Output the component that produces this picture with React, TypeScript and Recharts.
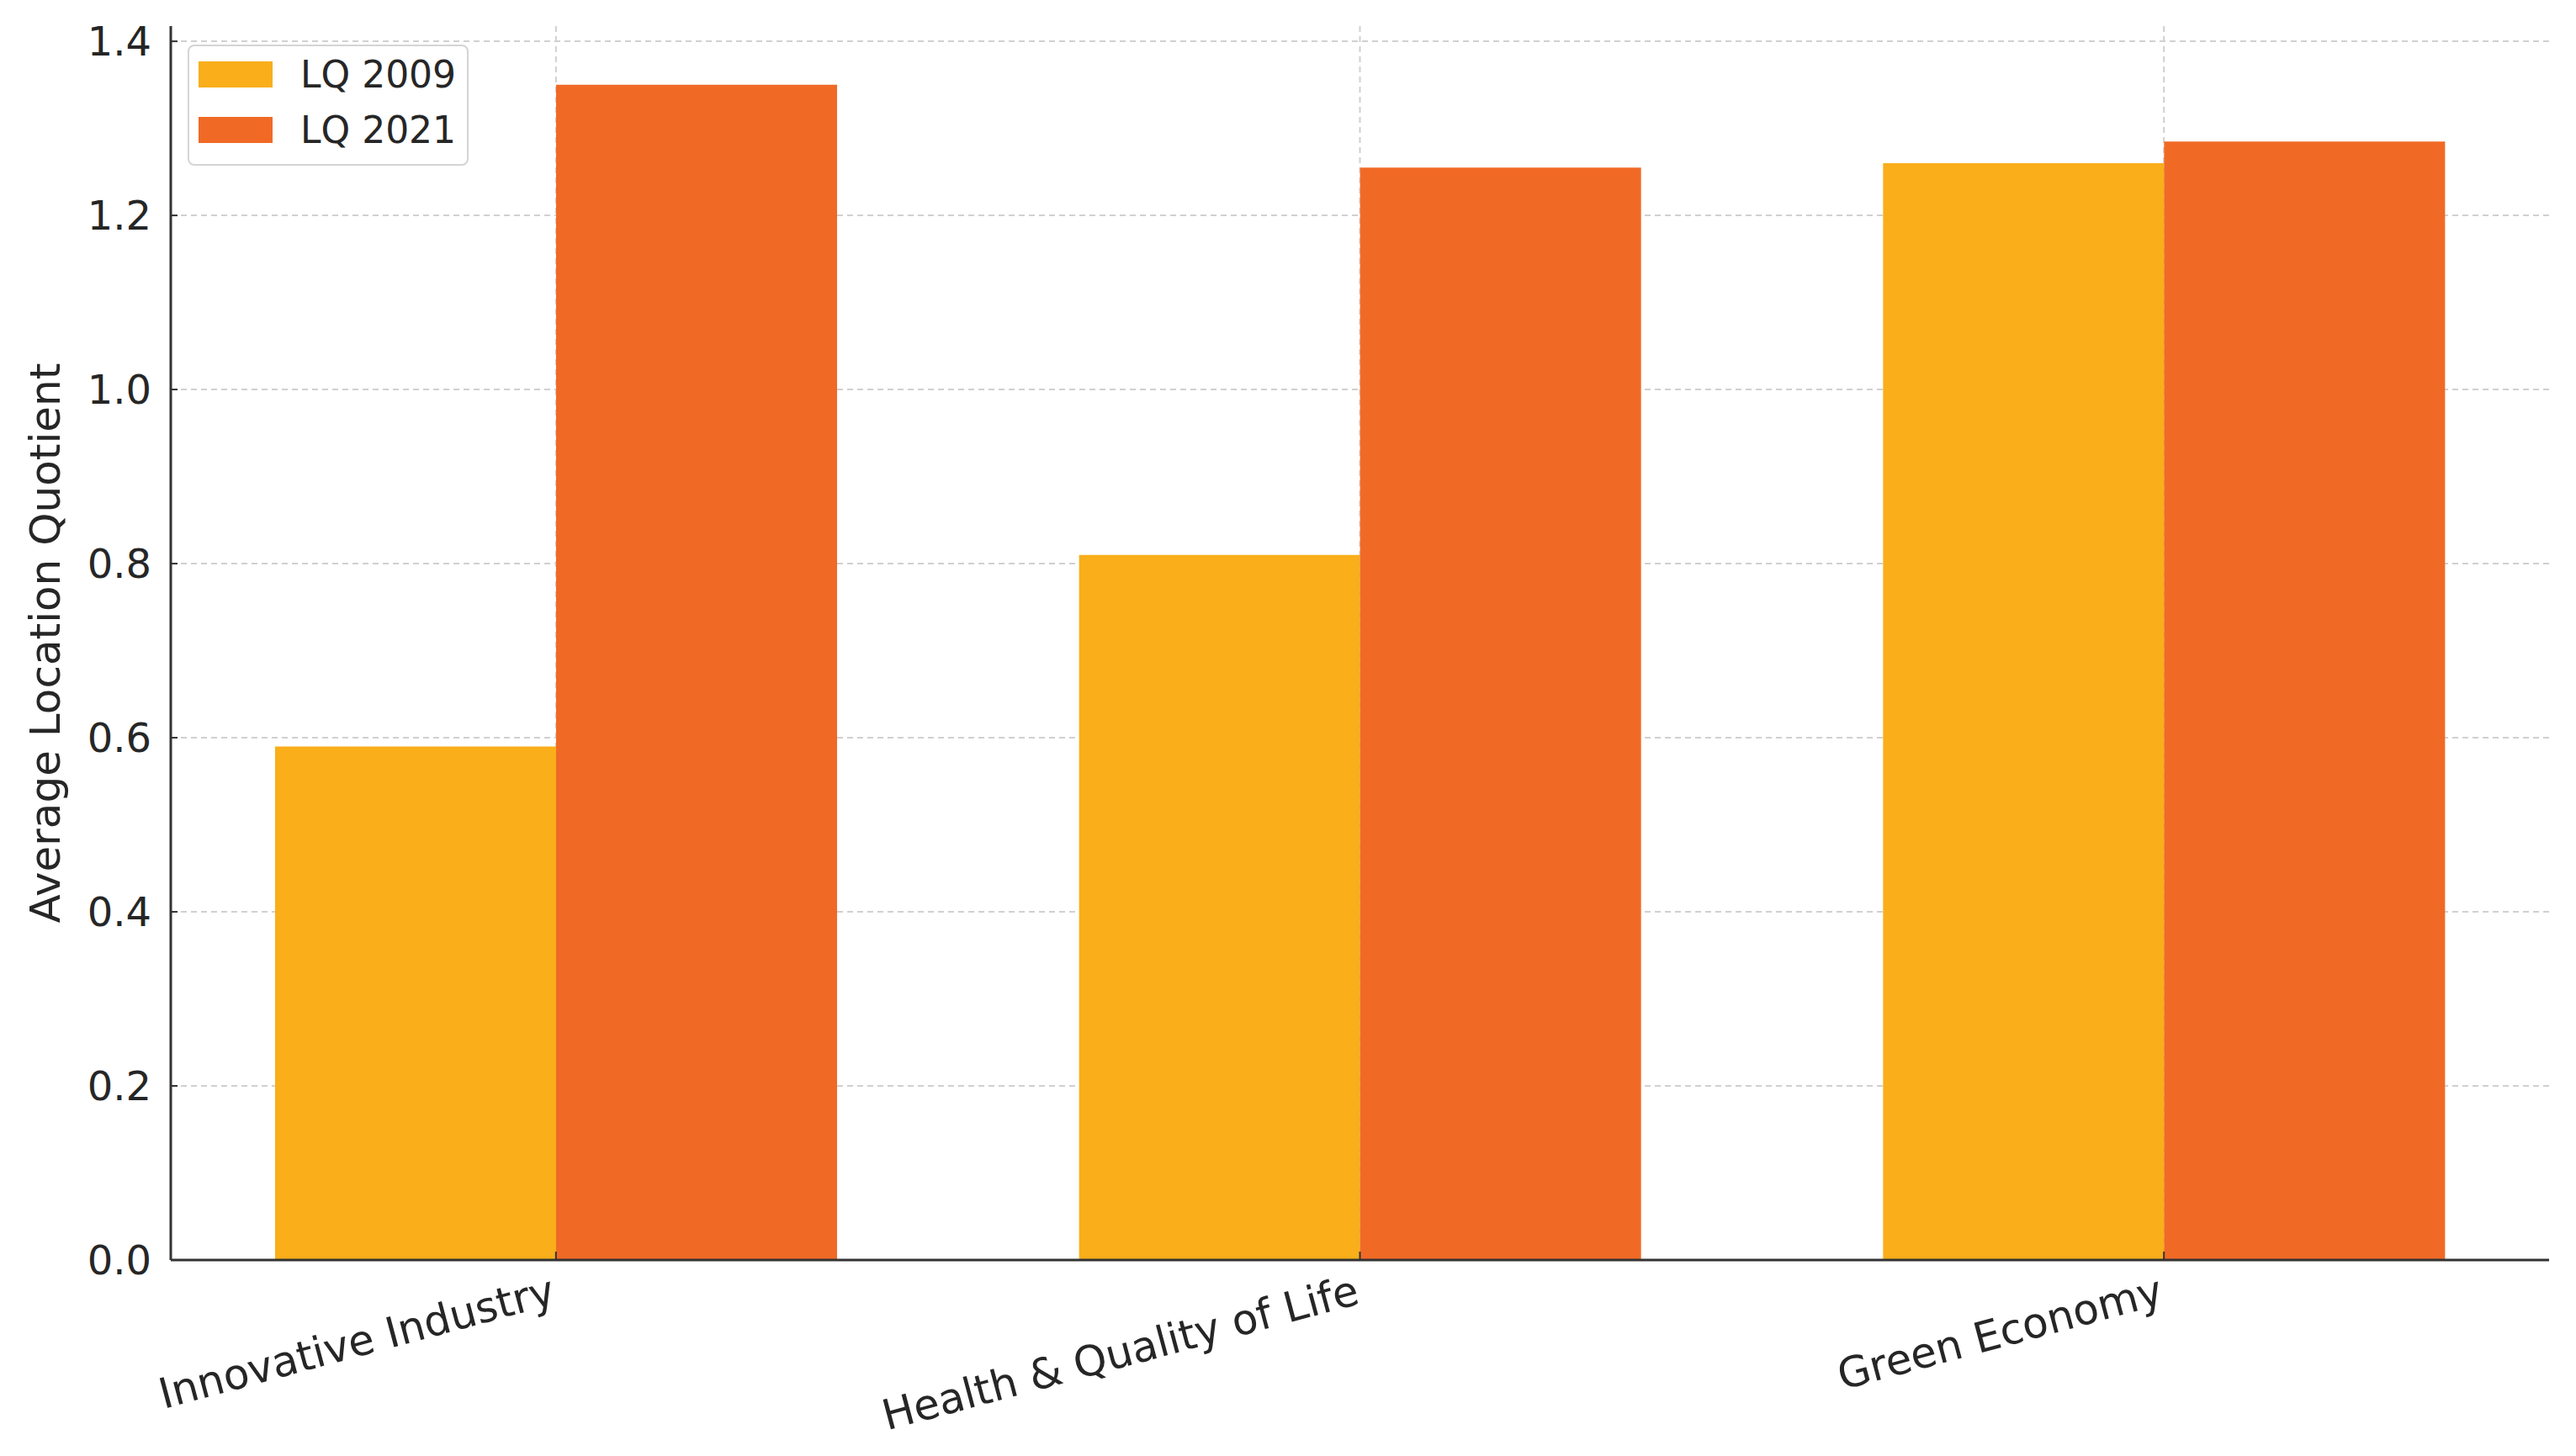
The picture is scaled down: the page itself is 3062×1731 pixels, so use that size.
import { BarChart, Bar, XAxis, YAxis, CartesianGrid, Legend } from "recharts";

const categories = ["Innovative Industry", "Health & Quality of Life", "Green Economy"];
const lq2009 = [0.59, 0.81, 1.26];
const lq2021 = [1.35, 1.255, 1.285];
const yTicks = [0, 0.2, 0.4, 0.6, 0.8, 1.0, 1.2, 1.4];

const data = categories.map((name, i) => ({ name, lq2009: lq2009[i], lq2021: lq2021[i] }));

const FONT = "'DejaVu Sans', sans-serif";
const TEXT = "#262626";

function CategoryTick({ x, y, payload }: any) {
  return (
    <text
      x={x - 8}
      y={y}
      transform={`rotate(-15, ${x - 8}, ${y})`}
      textAnchor="end"
      dominantBaseline="hanging"
      fontFamily={FONT}
      fontSize={50}
      fill={TEXT}
    >
      {payload.value}
    </text>
  );
}

function LegendBox({ payload }: any) {
  return (
    <div
      style={{
        boxSizing: "border-box",
        width: 334,
        border: "2px solid #d4d4d4",
        borderRadius: 8,
        background: "rgba(255,255,255,0.85)",
        padding: "0 0 8px 11px",
        fontFamily: FONT,
        fontSize: 44,
        color: TEXT,
      }}
    >
      {(payload || []).map((e: any) => (
        <div key={e.value} style={{ display: "flex", alignItems: "center", height: 66 }}>
          <span style={{ width: 88, height: 31, background: e.color, marginRight: 33, display: "inline-block" }} />
          <span>{e.value}</span>
        </div>
      ))}
    </div>
  );
}

export default function App() {
  return (
    <div style={{ margin: -8, width: 3062, height: 1731, background: "#fff" }}>
      <BarChart
        width={3062}
        height={1731}
        data={data}
        margin={{ top: 31, right: 32, left: 53, bottom: 0 }}
        barGap={0}
      >
        <CartesianGrid stroke="#d0d0d0" strokeWidth={2} strokeDasharray="7 5" syncWithTicks />
        <XAxis
          dataKey="name"
          height={233}
          padding={{ left: -20, right: -20 }}
          axisLine={{ stroke: "#333", strokeWidth: 3 }}
          tickLine={{ stroke: "#333", strokeWidth: 2 }}
          tickSize={-10}
          tickMargin={26}
          tick={<CategoryTick />}
          interval={0}
        />
        <YAxis
          width={150}
          domain={[0, 1.4175]}
          ticks={yTicks}
          tickFormatter={(v: number) => v.toFixed(1)}
          axisLine={{ stroke: "#333", strokeWidth: 3 }}
          tickLine={{ stroke: "#333", strokeWidth: 2 }}
          tickSize={-8}
          tickMargin={31}
          tick={{ fontFamily: FONT, fontSize: 48, fill: TEXT }}
          label={{
            value: "Average Location Quotient",
            angle: -90,
            position: "insideLeft",
            offset: 0,
            style: { textAnchor: "middle", fontFamily: FONT, fontSize: 50, fill: TEXT },
          }}
        />
        <Legend
          layout="vertical"
          align="center"
          verticalAlign="middle"
          content={<LegendBox />}
          wrapperStyle={{ left: 223, top: 53, width: 334 }}
        />
        <Bar dataKey="lq2009" name="LQ 2009" fill="#F9AE1A" barSize={334} isAnimationActive={false} />
        <Bar dataKey="lq2021" name="LQ 2021" fill="#F06A26" barSize={334} isAnimationActive={false} />
      </BarChart>
    </div>
  );
}
